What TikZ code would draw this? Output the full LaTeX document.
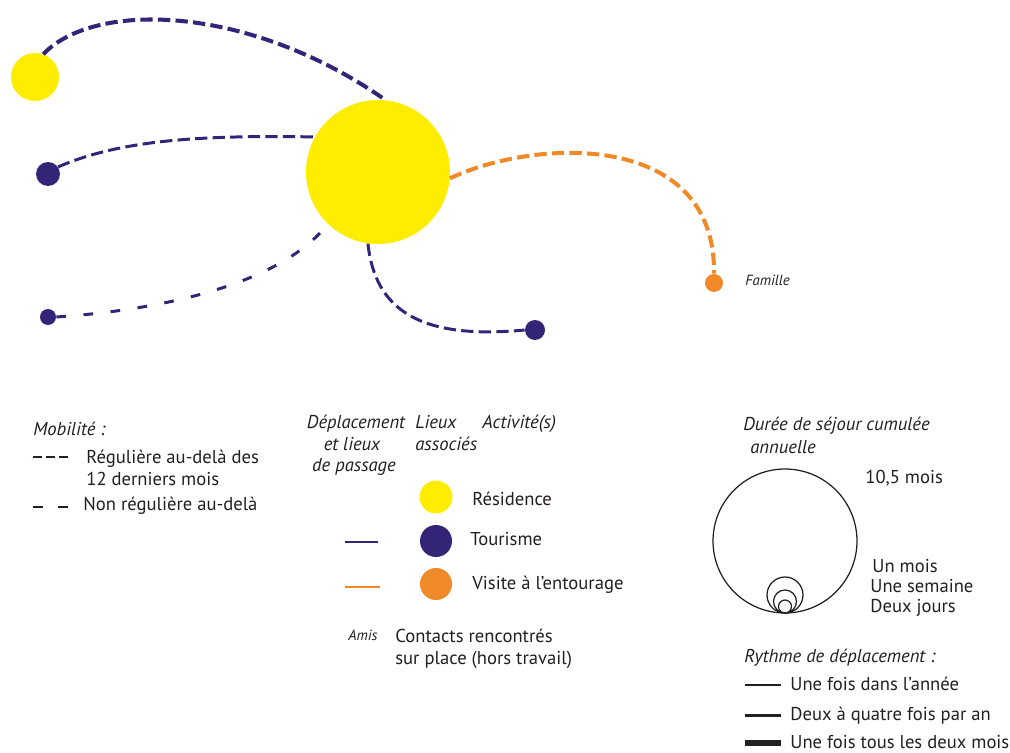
\documentclass[tikz,border=0pt]{standalone}
\usepackage{fontspec}
\setmainfont{PT Sans}
\usepackage{tikz}
\usetikzlibrary{positioning}
\definecolor{jauneres}{RGB}{255, 237, 0}
\definecolor{violettour}{RGB}{52, 36, 120}
\definecolor{orangevis}{RGB}{240, 137, 40}
\definecolor{encre}{RGB}{35, 31, 32}

\begin{document}
\begin{tikzpicture}[x=0.02cm, y=-0.02cm,
    lieu/.style={circle, inner sep=0pt},
    regul/.style={line width=2.3pt, dash pattern=on 7pt off 3pt},
    regulfin/.style={line width=1.7pt, dash pattern=on 7pt off 3pt},
    nonregul/.style={line width=1.7pt, dash pattern=on 5.5pt off 10pt},
    txt/.style={font=\fontsize{10.6}{13}\selectfont, text=encre, inner sep=0pt, anchor=base west},
    txtit/.style={txt, font=\fontsize{10.6}{13}\selectfont\itshape},
    petit/.style={txt, font=\fontsize{8.4}{10}\selectfont\itshape}]
    \useasboundingbox (0,0) rectangle (1010,753);

    % lieux
    \node[lieu, fill=jauneres, minimum size=2.88cm] (res) at (378,172) {};
    \node[lieu, fill=jauneres, minimum size=0.96cm] (resB) at (35,77) {};
    \node[lieu, fill=violettour, minimum size=0.48cm] (tourA) at (48,174) {};
    \node[lieu, fill=violettour, minimum size=0.32cm] (tourB) at (48,317) {};
    \node[lieu, fill=violettour, minimum size=0.40cm] (tourC) at (535,330) {};
    \node[lieu, fill=orangevis, minimum size=0.36cm] (fam) at (714,283) {};
    \node[petit] (famTxt) at (745,285) {Famille};

    % deplacements
    \draw[regul, violettour] (resB.70) .. controls (95,0) and (250,5) .. (res.84);
    \draw[regulfin, violettour] (tourA.35) .. controls (120,140) and (200,135) .. (res.151);
    \draw[nonregul, violettour] (tourB.east) .. controls (160,310) and (280,285) .. (res.226);
    \draw[regulfin, violettour] (res.262) .. controls (375,310) and (420,340) .. (tourC.west);
    \draw[regul, orangevis] (res.355) .. controls (535,138) and (716,130) .. (fam.north);

    % legende mobilite
    \node[txtit] (mobTitre) at (33,435) {Mobilité :};
    \draw[line width=1.7pt, dash pattern=on 5pt off 2.4pt, encre] (33,457) -- (68,457);
    \node[txt] (regA) at (86,463) {Régulière au-delà des};
    \node[txt] (regB) at (86,485) {12 derniers mois};
    \draw[line width=1.7pt, dash pattern=on 5.7pt off 8.5pt, encre] (33,507) -- (68,507);
    \node[txt] (nonreg) at (83,510) {Non régulière au-delà};

    % legende lieux
    \node[txtit, anchor=base] (depA) at (356,428) {Déplacement};
    \node[txtit, anchor=base] (depB) at (352,450) {et lieux};
    \node[txtit, anchor=base] (depC) at (354,471) {de passage};
    \node[txtit] (lieuxA) at (415,428) {Lieux};
    \node[txtit] (lieuxB) at (415,450) {associés};
    \node[txtit] (activ) at (482,428) {Activité(s)};

    \node[lieu, fill=jauneres, minimum size=0.66cm] (legRes) at (436,497) {};
    \node[txt] (resTxt) at (472,505) {Résidence};
    \draw[line width=1.7pt, violettour] (345,542) -- (378,542);
    \node[lieu, fill=violettour, minimum size=0.64cm] (legTour) at (436,541) {};
    \node[txt] (tourTxt) at (470,545) {Tourisme};
    \draw[line width=1.7pt, orangevis] (345,587) -- (380,587);
    \node[lieu, fill=orangevis, minimum size=0.64cm] (legVis) at (436,584) {};
    \node[txt] (visTxt) at (472,589) {Visite à l’entourage};
    \node[petit] (amis) at (348,640) {Amis};
    \node[txt] (contA) at (395,642) {Contacts rencontrés};
    \node[txt] (contB) at (395,664) {sur place (hors travail)};

    % legende duree
    \node[txtit] (dureeA) at (743,430) {Durée de séjour cumulée};
    \node[txtit] (dureeB) at (750,453) {annuelle};
    \node[lieu, draw=encre, line width=0.7pt, minimum size=2.88cm] (dAn) at (785,541) {};
    \node[lieu, draw=encre, line width=0.7pt, minimum size=0.72cm] (dMois) at (785,595) {};
    \node[lieu, draw=encre, line width=0.7pt, minimum size=0.46cm] (dSem) at (785,601.5) {};
    \node[lieu, draw=encre, line width=0.7pt, minimum size=0.26cm] (dJours) at (785,606.5) {};
    \node[txt] (anTxt) at (865,483) {10,5 mois};
    \node[txt] (moisTxt) at (872,572) {Un mois};
    \node[txt] (semTxt) at (870,592) {Une semaine};
    \node[txt] (joursTxt) at (870,612) {Deux jours};

    % legende rythme
    \node[txtit] (rythme) at (744,662) {Rythme de déplacement :};
    \draw[line width=0.9pt, encre] (745,685) -- (781,685);
    \node[txt] (rythA) at (790,690) {Une fois dans l’année};
    \draw[line width=1.7pt, encre] (745,715) -- (781,715);
    \node[txt] (rythB) at (790,720) {Deux à quatre fois par an};
    \draw[line width=3pt, encre] (745,743) -- (781,743);
    \node[txt] (rythC) at (790,748) {Une fois tous les deux mois};
\end{tikzpicture}
\end{document}
